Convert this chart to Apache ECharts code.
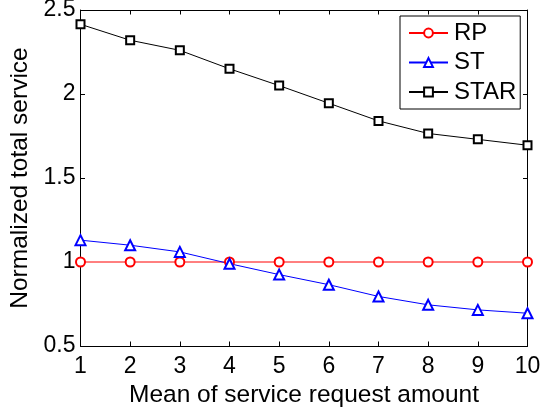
<!DOCTYPE html>
<html>
<head>
<meta charset="utf-8">
<script src="https://cdn.jsdelivr.net/npm/echarts@6/dist/echarts.min.js"></script>
<style>
  html, body { margin: 0; padding: 0; background: #fff; }
  #chart { width: 543px; height: 408px; }
</style>
</head>
<body>
<div id="chart"></div>
<script>
// data
const xValues = [1, 2, 3, 4, 5, 6, 7, 8, 9, 10];
const rpValues = [1, 1, 1, 1, 1, 1, 1, 1, 1, 1];
const stValues = [1.13, 1.10, 1.06, 0.99, 0.925, 0.865, 0.795, 0.745, 0.715, 0.695];
const starValues = [2.415, 2.32, 2.26, 2.15, 2.05, 1.945, 1.84, 1.765, 1.73, 1.695];
const seriesNames = ['RP', 'ST', 'STAR'];

const FONT = 'Liberation Sans';

function pairs(ys) {
  return xValues.map((x, i) => [x, ys[i]]);
}

function mkSeries(name, ys, color, symbol, size) {
  return {
    name: name,
    type: 'line',
    data: pairs(ys),
    symbol: symbol,
    symbolSize: size,
    showAllSymbol: true,
    clip: false,
    lineStyle: { color: color, width: 1 },
    itemStyle: { color: color, borderColor: color, borderWidth: 1 },
    emphasis: { disabled: true },
    animation: false
  };
}

const chart = echarts.init(document.getElementById('chart'), null, { renderer: 'canvas' });

const tickStyle = { show: true, inside: true, length: 4.5, lineStyle: { color: '#000', width: 1 } };
const lineStyle = { show: true, lineStyle: { color: '#000', width: 1 } };

chart.setOption({
  animation: false,
  backgroundColor: '#fff',
  textStyle: { fontFamily: FONT },
  grid: { left: 80.5, top: 10, right: 15.5, bottom: 62, containLabel: false, outerBoundsMode: 'none' },
  legend: {
    data: seriesNames,
    orient: 'vertical',
    left: 400,
    top: 16,
    padding: [5, 4, 5, 8],
    itemGap: 5.5,
    itemWidth: 39,
    itemHeight: 11,
    backgroundColor: '#fff',
    borderColor: '#000',
    borderWidth: 1,
    borderRadius: 0,
    selectedMode: false,
    textStyle: { fontFamily: FONT, fontSize: 24, color: '#000', lineHeight: 24, padding: [0, 0, 0, 1] }
  },
  xAxis: [
    {
      type: 'value', min: 1, max: 10, interval: 1,
      name: 'Mean of service request amount',
      nameLocation: 'middle', nameGap: 31,
      nameTextStyle: { fontFamily: FONT, fontSize: 24.5, color: '#000' },
      axisLine: lineStyle, axisTick: tickStyle,
      axisLabel: { fontFamily: FONT, fontSize: 23, color: '#000', margin: 9 },
      splitLine: { show: false }
    },
    {
      type: 'value', min: 1, max: 10, interval: 1, position: 'top',
      axisLine: lineStyle, axisTick: tickStyle,
      axisLabel: { show: false }, splitLine: { show: false }
    }
  ],
  yAxis: [
    {
      type: 'value', min: 0.5, max: 2.5, interval: 0.5,
      name: 'Normalized total service',
      nameLocation: 'middle', nameGap: 44,
      nameTextStyle: { fontFamily: FONT, fontSize: 24.5, color: '#000' },
      axisLine: lineStyle, axisTick: tickStyle,
      axisLabel: { fontFamily: FONT, fontSize: 23, color: '#000', margin: 5 },
      splitLine: { show: false }
    },
    {
      type: 'value', min: 0.5, max: 2.5, interval: 0.5, position: 'right',
      axisLine: lineStyle, axisTick: tickStyle,
      axisLabel: { show: false }, splitLine: { show: false }
    }
  ],
  series: [
    mkSeries('RP', rpValues, '#ff0000', 'emptyCircle', 9),
    mkSeries('ST', stValues, '#0000ff', 'emptyTriangle', 10),
    mkSeries('STAR', starValues, '#000000', 'emptyRect', 8)
  ]
});
</script>
</body>
</html>
